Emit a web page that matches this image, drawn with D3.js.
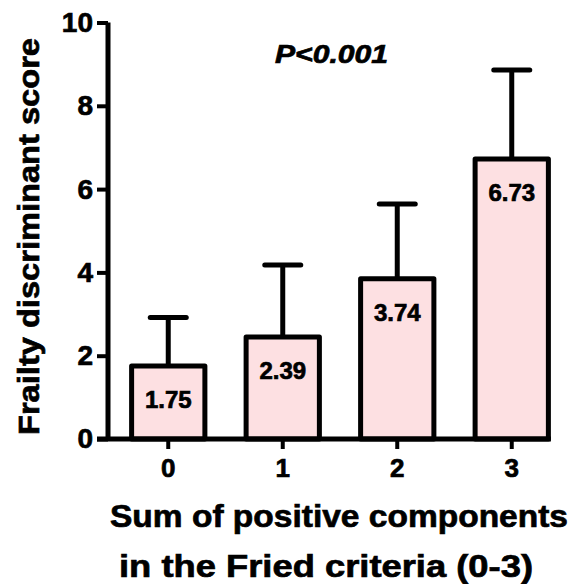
<!DOCTYPE html>
<html>
<head>
<meta charset="utf-8">
<script src="https://cdn.jsdelivr.net/npm/d3@7"></script>
<style>
  body { margin: 0; background: #fff; }
  svg text { font-family: "Liberation Sans", Arial, sans-serif; font-weight: bold; fill: #000; stroke: #000; stroke-width: 0.7px; }
</style>
</head>
<body>
<svg id="chart" width="569" height="584"></svg>
<script>
//* Data
const categories = ["0", "1", "2", "3"];
const means = [1.75, 2.45, 3.85, 6.72];
const upperErr = [2.92, 4.18, 5.64, 8.86];
const valueLabels = ["1.75", "2.39", "3.74", "6.73"];
const yTicks = [0, 2, 4, 6, 8, 10];

//* Chart area
const axisX = 108;
const y0 = 439;
const y10 = 22.5;

const svg = d3.select("#chart");

const x = d3.scaleBand()
  .domain(categories)
  .range([111, 569])
  .paddingInner(0.36)
  .paddingOuter(0.18);

const y = d3.scaleLinear()
  .domain([0, 10])
  .range([y0, y10]);

const data = categories.map((c, i) => ({ cat: c, mean: means[i], up: upperErr[i], label: valueLabels[i] }));

//* Error bars (drawn first so the bar covers the stem)
const err = svg.append("g");
err.selectAll(".stem")
  .data(data)
  .enter()
  .append("line")
  .attr("x1", d => x(d.cat) + x.bandwidth() / 2)
  .attr("x2", d => x(d.cat) + x.bandwidth() / 2)
  .attr("y1", d => y(d.mean))
  .attr("y2", d => y(d.up))
  .attr("stroke", "#000")
  .attr("stroke-width", 5);
err.selectAll(".cap")
  .data(data)
  .enter()
  .append("line")
  .attr("x1", d => x(d.cat) + x.bandwidth() / 2 - 18)
  .attr("x2", d => x(d.cat) + x.bandwidth() / 2 + 18)
  .attr("y1", d => y(d.up))
  .attr("y2", d => y(d.up))
  .attr("stroke", "#000")
  .attr("stroke-width", 5)
  .attr("stroke-linecap", "round");

//* Bars
svg.selectAll(".bar")
  .data(data)
  .enter()
  .append("rect")
  .attr("class", "bar")
  .attr("x", d => x(d.cat))
  .attr("y", d => y(d.mean))
  .attr("width", x.bandwidth())
  .attr("height", d => y0 - y(d.mean))
  .attr("fill", "#fde0e2")
  .attr("stroke", "#000")
  .attr("stroke-width", 5)
  .attr("stroke-linejoin", "round");

svg.selectAll(".vlabel")
  .data(data)
  .enter()
  .append("text")
  .attr("class", "vlabel")
  .attr("x", d => x(d.cat) + x.bandwidth() / 2)
  .attr("y", d => y(d.mean) + 42)
  .attr("text-anchor", "middle")
  .attr("font-size", "24px")
  .text(d => d.label);

//* Y axis
const yAxis = svg.append("g")
  .attr("transform", `translate(${axisX},0)`)
  .call(d3.axisLeft(y).tickValues(yTicks).tickSize(11).tickPadding(4));
yAxis.select(".domain")
  .attr("d", `M0,${y0}V${y10}`)
  .attr("stroke-width", 5);
yAxis.selectAll(".tick line").attr("stroke-width", 4);
yAxis.selectAll(".tick text")
  .attr("font-size", "28px")
  .attr("font-family", "Liberation Sans, Arial, sans-serif")
  .attr("font-weight", "bold");

//* X axis
const lastRight = x(categories[categories.length - 1]) + x.bandwidth() + 2.5;
const xAxis = svg.append("g")
  .attr("transform", `translate(0,${y0})`)
  .call(d3.axisBottom(x).tickSize(10).tickPadding(10));
xAxis.select(".domain")
  .attr("d", `M${axisX - 11},0H${lastRight}`)
  .attr("stroke-width", 5);
xAxis.selectAll(".tick line").attr("stroke-width", 4);
xAxis.selectAll(".tick text")
  .attr("font-size", "26px")
  .attr("font-family", "Liberation Sans, Arial, sans-serif")
  .attr("font-weight", "bold");

//* Titles
svg.append("text")
  .attr("transform", "translate(39,435) rotate(-90)")
  .attr("text-anchor", "start")
  .attr("font-size", "30px")
  .attr("textLength", 397)
  .attr("lengthAdjust", "spacingAndGlyphs")
  .text("Frailty discriminant score");

svg.append("text")
  .attr("x", 110)
  .attr("y", 527)
  .attr("font-size", "32px")
  .attr("textLength", 458)
  .attr("lengthAdjust", "spacingAndGlyphs")
  .text("Sum of positive components");

svg.append("text")
  .attr("x", 119)
  .attr("y", 577)
  .attr("font-size", "32px")
  .attr("textLength", 414)
  .attr("lengthAdjust", "spacingAndGlyphs")
  .text("in the Fried criteria (0-3)");

svg.append("text")
  .attr("x", 275)
  .attr("y", 63)
  .attr("font-size", "25px")
  .attr("font-style", "italic")
  .attr("textLength", 113)
  .attr("lengthAdjust", "spacingAndGlyphs")
  .text("P<0.001");
</script>
</body>
</html>
